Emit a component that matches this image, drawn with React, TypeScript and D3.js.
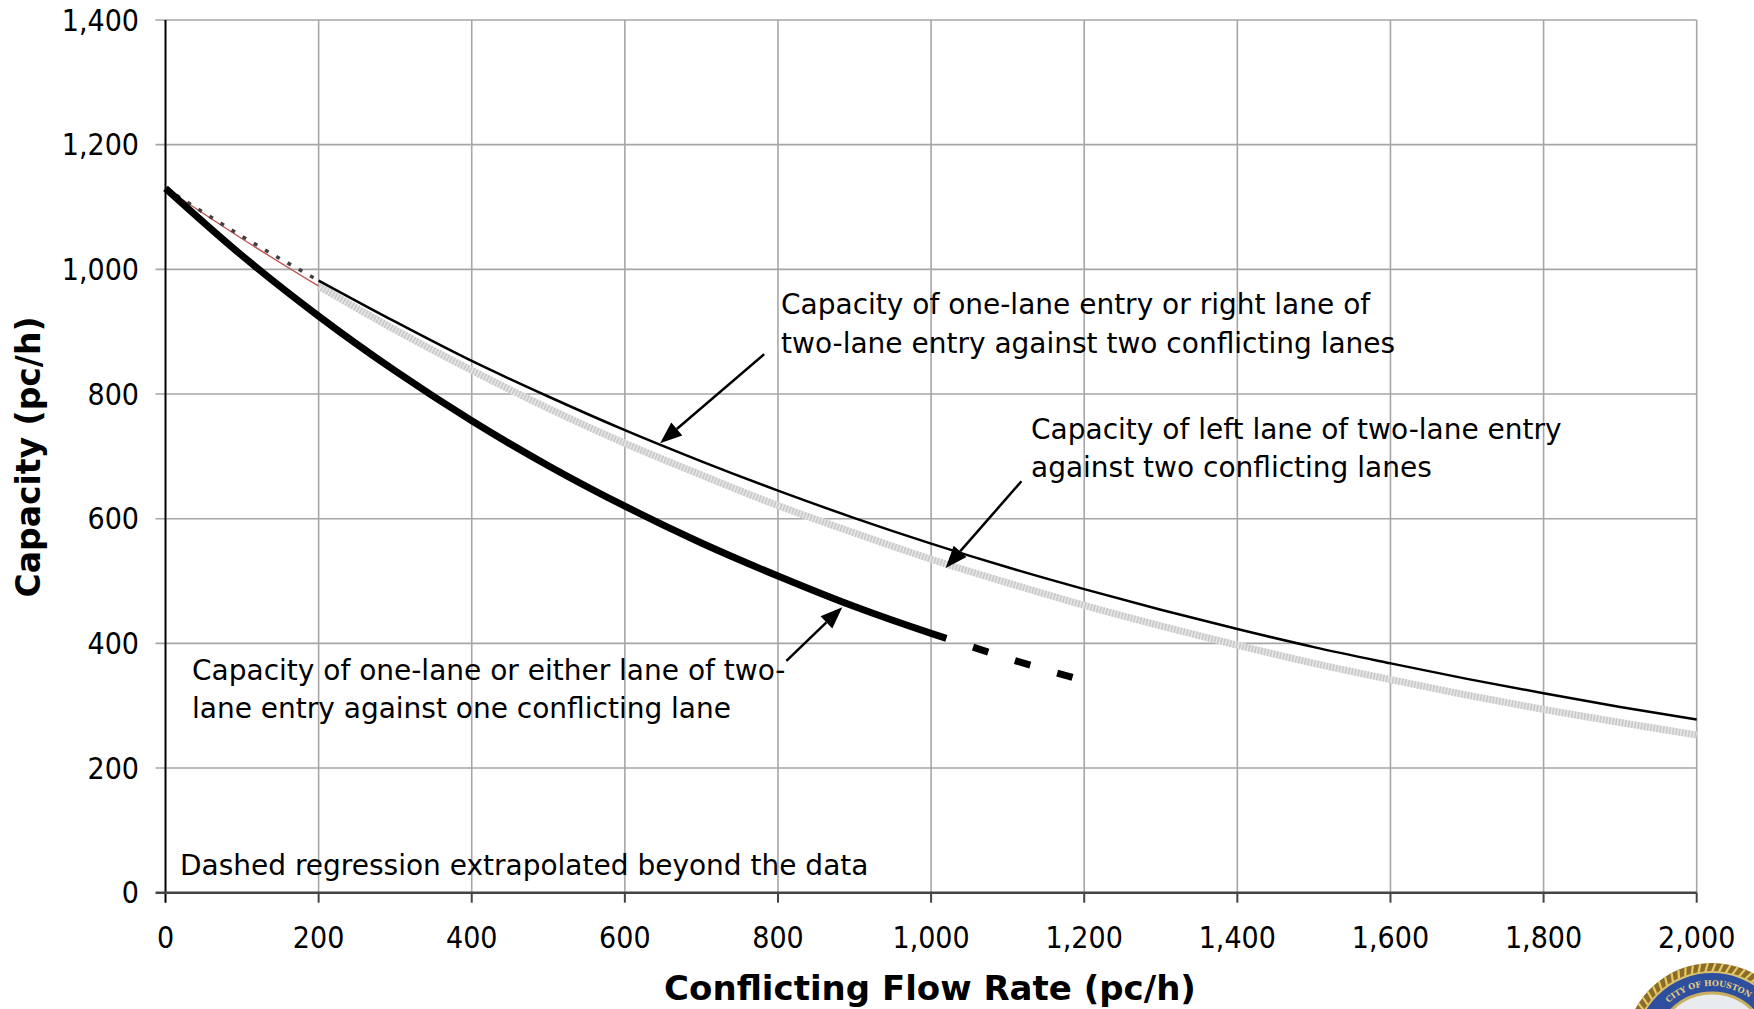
import React from "react";
import * as d3 from "d3";

const W = 1754;
const H = 1009;
const FONT = "'DejaVu Sans Condensed', 'DejaVu Sans', sans-serif";
const FONT_WIDE = "'DejaVu Sans', sans-serif";

// Axis ticks
const xTicks = [0, 200, 400, 600, 800, 1000, 1200, 1400, 1600, 1800, 2000];
const yTicks = [0, 200, 400, 600, 800, 1000, 1200, 1400];

// One-lane or either lane of two-lane entry vs one conflicting lane (thick black)
const oneConfFlow = [0, 100, 200, 300, 400, 500, 600, 700, 800, 900, 1000, 1020];
const oneConfCap = [1130, 1022, 925, 837, 757, 685, 620, 561, 508, 459, 416, 408];
// Extrapolated part (dashed)
const oneConfExtFlow = [1020, 1100, 1200];
const oneConfExtCap = [408, 376, 340];

// One-lane / right lane vs two conflicting lanes (thin black)
const rightFlow = [200, 300, 400, 500, 600, 700, 800, 900, 1000, 1100, 1200, 1300, 1400, 1500, 1600, 1700, 1800, 1900, 2000];
const rightCap = [982, 916, 853, 796, 742, 692, 645, 601, 560, 522, 487, 454, 423, 394, 368, 343, 320, 298, 278];
// Extrapolation below data range (dotted)
const rightExtFlow = [0, 100, 200];
const rightExtCap = [1130, 1053, 982];

// Left lane of two-lane entry vs two conflicting lanes (gray hatched)
const leftFlow = [200, 300, 400, 500, 600, 700, 800, 900, 1000, 1100, 1200, 1300, 1400, 1500, 1600, 1700, 1800, 1900, 2000];
const leftCap = [973, 903, 838, 777, 721, 670, 621, 577, 535, 497, 461, 428, 397, 368, 342, 317, 294, 273, 253];
// Extrapolation below data range (thin red)
const leftExtFlow = [0, 100, 200];
const leftExtCap = [1130, 1049, 973];

const x = d3.scaleLinear().domain([0, 2000]).range([165.5, 1696.7]);
const y = d3.scaleLinear().domain([0, 1400]).range([892.7, 20]);

const line = d3
  .line<[number, number]>()
  .x((d) => x(d[0]))
  .y((d) => y(d[1]))
  .curve(d3.curveMonotoneX);

const zip = (a: number[], b: number[]) => a.map((v, i) => [v, b[i]] as [number, number]);

const fmt = d3.format(",");

function Arrow({ from, to }: { from: [number, number]; to: [number, number] }) {
  const x1 = x(from[0]);
  const y1 = y(from[1]);
  const x2 = x(to[0]);
  const y2 = y(to[1]);
  const ang = Math.atan2(y2 - y1, x2 - x1);
  const len = 22;
  const half = 8.5;
  const bx = x2 - len * Math.cos(ang);
  const by = y2 - len * Math.sin(ang);
  const px = -Math.sin(ang) * half;
  const py = Math.cos(ang) * half;
  return (
    <g>
      <line x1={x1} y1={y1} x2={bx} y2={by} stroke="#000" strokeWidth={2.5} />
      <polygon points={`${x2},${y2} ${bx + px},${by + py} ${bx - px},${by - py}`} fill="#000" />
    </g>
  );
}

function Seal() {
  const cx = 1712;
  const cy = 1050;
  const r = 87;
  const ar = 64;
  const ropes = d3.range(0, 360, 5);
  return (
    <g>
      <circle cx={cx} cy={cy} r={r} fill="#8a6d2a" />
      {ropes.map((a) => {
        const t = (a * Math.PI) / 180;
        return (
          <line
            key={a}
            x1={cx + (r - 9) * Math.cos(t)}
            y1={cy + (r - 9) * Math.sin(t)}
            x2={cx + r * Math.cos(t + 0.04)}
            y2={cy + r * Math.sin(t + 0.04)}
            stroke="#e8c860"
            strokeWidth={2.2}
          />
        );
      })}
      <circle cx={cx} cy={cy} r={r - 9} fill="#2d4f9e" stroke="#d8c070" strokeWidth={2} />
      <defs>
        <path id="sealArc" d={`M ${cx - ar} ${cy} A ${ar} ${ar} 0 0 1 ${cx + ar} ${cy}`} />
      </defs>
      <text fontFamily="'DejaVu Serif', serif" fontWeight="bold" fontSize={8} fill="#e6cf7a">
        <textPath href="#sealArc" startOffset="48%" textAnchor="middle">
          CITY OF HOUSTON
        </textPath>
      </text>
      <circle cx={cx} cy={cy} r={r - 30} fill="#e9ecef" stroke="#c8b060" strokeWidth={3} />
      <polygon
        points={d3
          .range(10)
          .map((i) => {
            const rr = i % 2 === 0 ? 16 : 7;
            const t = -Math.PI / 2 + (i * Math.PI) / 5;
            return `${cx + rr * Math.cos(t)},${cy - 22 + rr * Math.sin(t)}`;
          })
          .join(" ")}
        fill="#a08a50"
      />
      <path d={`M ${cx - 40} ${cy - 10} q 10 -18 22 -8`} stroke="#b08a40" strokeWidth={5} fill="none" />
    </g>
  );
}

export default function App() {
  return (
    <svg
      width={W}
      height={H}
      viewBox={`0 0 ${W} ${H}`}
      style={{ position: "absolute", left: 0, top: 0, background: "#fff" }}
    >
      <rect x={0} y={0} width={W} height={H} fill="#fff" />
      {/* Gridlines */}
      {xTicks.slice(1).map((t) => (
        <line key={"gx" + t} x1={x(t)} x2={x(t)} y1={y(1400)} y2={y(0)} stroke="#a6a6a6" strokeWidth={1.6} />
      ))}
      {yTicks.slice(1).map((t) => (
        <line key={"gy" + t} x1={x(0) - 10} x2={x(2000)} y1={y(t)} y2={y(t)} stroke="#a6a6a6" strokeWidth={1.6} />
      ))}
      {/* Axes */}
      <line x1={x(0)} x2={x(0)} y1={y(1400)} y2={y(0) + 10} stroke="#000" strokeWidth={2} />
      <line x1={x(0) - 10} x2={x(2000)} y1={y(0)} y2={y(0)} stroke="#444" strokeWidth={2.6} />
      {xTicks.slice(1).map((t) => (
        <line key={"tx" + t} x1={x(t)} x2={x(t)} y1={y(0)} y2={y(0) + 10} stroke="#444" strokeWidth={2} />
      ))}

      {/* Tick labels */}
      {xTicks.map((t) => (
        <text
          key={"lx" + t}
          x={x(t)}
          y={937}
          textAnchor="middle"
          dominantBaseline="central"
          fontFamily={FONT}
          fontSize={30}
          fill="#000"
        >
          {fmt(t)}
        </text>
      ))}
      {yTicks.map((t) => (
        <text
          key={"ly" + t}
          x={139}
          y={y(t)}
          textAnchor="end"
          dominantBaseline="central"
          fontFamily={FONT}
          fontSize={30}
          fill="#000"
        >
          {fmt(t)}
        </text>
      ))}

      {/* Axis titles */}
      <text
        x={930}
        y={1000}
        textAnchor="middle"
        fontFamily={FONT_WIDE}
        fontWeight="bold"
        fontSize={34}
        fill="#000"
      >
        Conflicting Flow Rate (pc/h)
      </text>
      <text
        transform={`translate(28,${457}) rotate(-90)`}
        textAnchor="middle"
        dominantBaseline="central"
        fontFamily={FONT_WIDE}
        fontWeight="bold"
        fontSize={33}
        fill="#000"
      >
        Capacity (pc/h)
      </text>

      {/* Series: extrapolations near origin */}
      <path d={line(zip(leftExtFlow, leftExtCap)) || ""} fill="none" stroke="#c0504d" strokeWidth={1.3} />
      <path
        d={line(zip(rightExtFlow, rightExtCap)) || ""}
        fill="none"
        stroke="#404040"
        strokeWidth={3.5}
        strokeDasharray="4 9"
      />

      {/* Gray hatched left lane */}
      <path d={line(zip(leftFlow, leftCap)) || ""} fill="none" stroke="#e6e6e6" strokeWidth={7} />
      <path
        d={line(zip(leftFlow, leftCap)) || ""}
        fill="none"
        stroke="#c8c8c8"
        strokeWidth={7}
        strokeDasharray="1.6 1.6"
      />

      {/* Thin black right lane */}
      <path d={line(zip(rightFlow, rightCap)) || ""} fill="none" stroke="#000" strokeWidth={2.5} />

      {/* Thick black one conflicting lane */}
      <path d={line(zip(oneConfFlow, oneConfCap)) || ""} fill="none" stroke="#000" strokeWidth={7} />
      <path
        d={line(zip(oneConfExtFlow, oneConfExtCap)) || ""}
        fill="none"
        stroke="#000"
        strokeWidth={7}
        strokeDasharray="16 28"
        strokeDashoffset={16}
      />

      {/* Annotations */}
      <text fontFamily={FONT_WIDE} fontSize={28} fill="#000">
        <tspan x={781} y={304} dominantBaseline="central">
          Capacity of one-lane entry or right lane of
        </tspan>
        <tspan x={781} y={343} dominantBaseline="central">
          two-lane entry against two conflicting lanes
        </tspan>
      </text>
      <Arrow from={[782, 864]} to={[646, 721]} />

      <text fontFamily={FONT_WIDE} fontSize={28} fill="#000">
        <tspan x={1031} y={429} dominantBaseline="central">
          Capacity of left lane of two-lane entry
        </tspan>
        <tspan x={1031} y={467} dominantBaseline="central">
          against two conflicting lanes
        </tspan>
      </text>
      <Arrow from={[1118, 660]} to={[1019, 521]} />

      <text fontFamily={FONT_WIDE} fontSize={28} fill="#000">
        <tspan x={192} y={670} dominantBaseline="central">
          Capacity of one-lane or either lane of two-
        </tspan>
        <tspan x={192} y={708} dominantBaseline="central">
          lane entry against one conflicting lane
        </tspan>
      </text>
      <Arrow from={[811, 372]} to={[884, 458]} />

      <text x={180} y={865} dominantBaseline="central" fontFamily={FONT_WIDE} fontSize={28} fill="#000">
        Dashed regression extrapolated beyond the data
      </text>

      <Seal />
    </svg>
  );
}
